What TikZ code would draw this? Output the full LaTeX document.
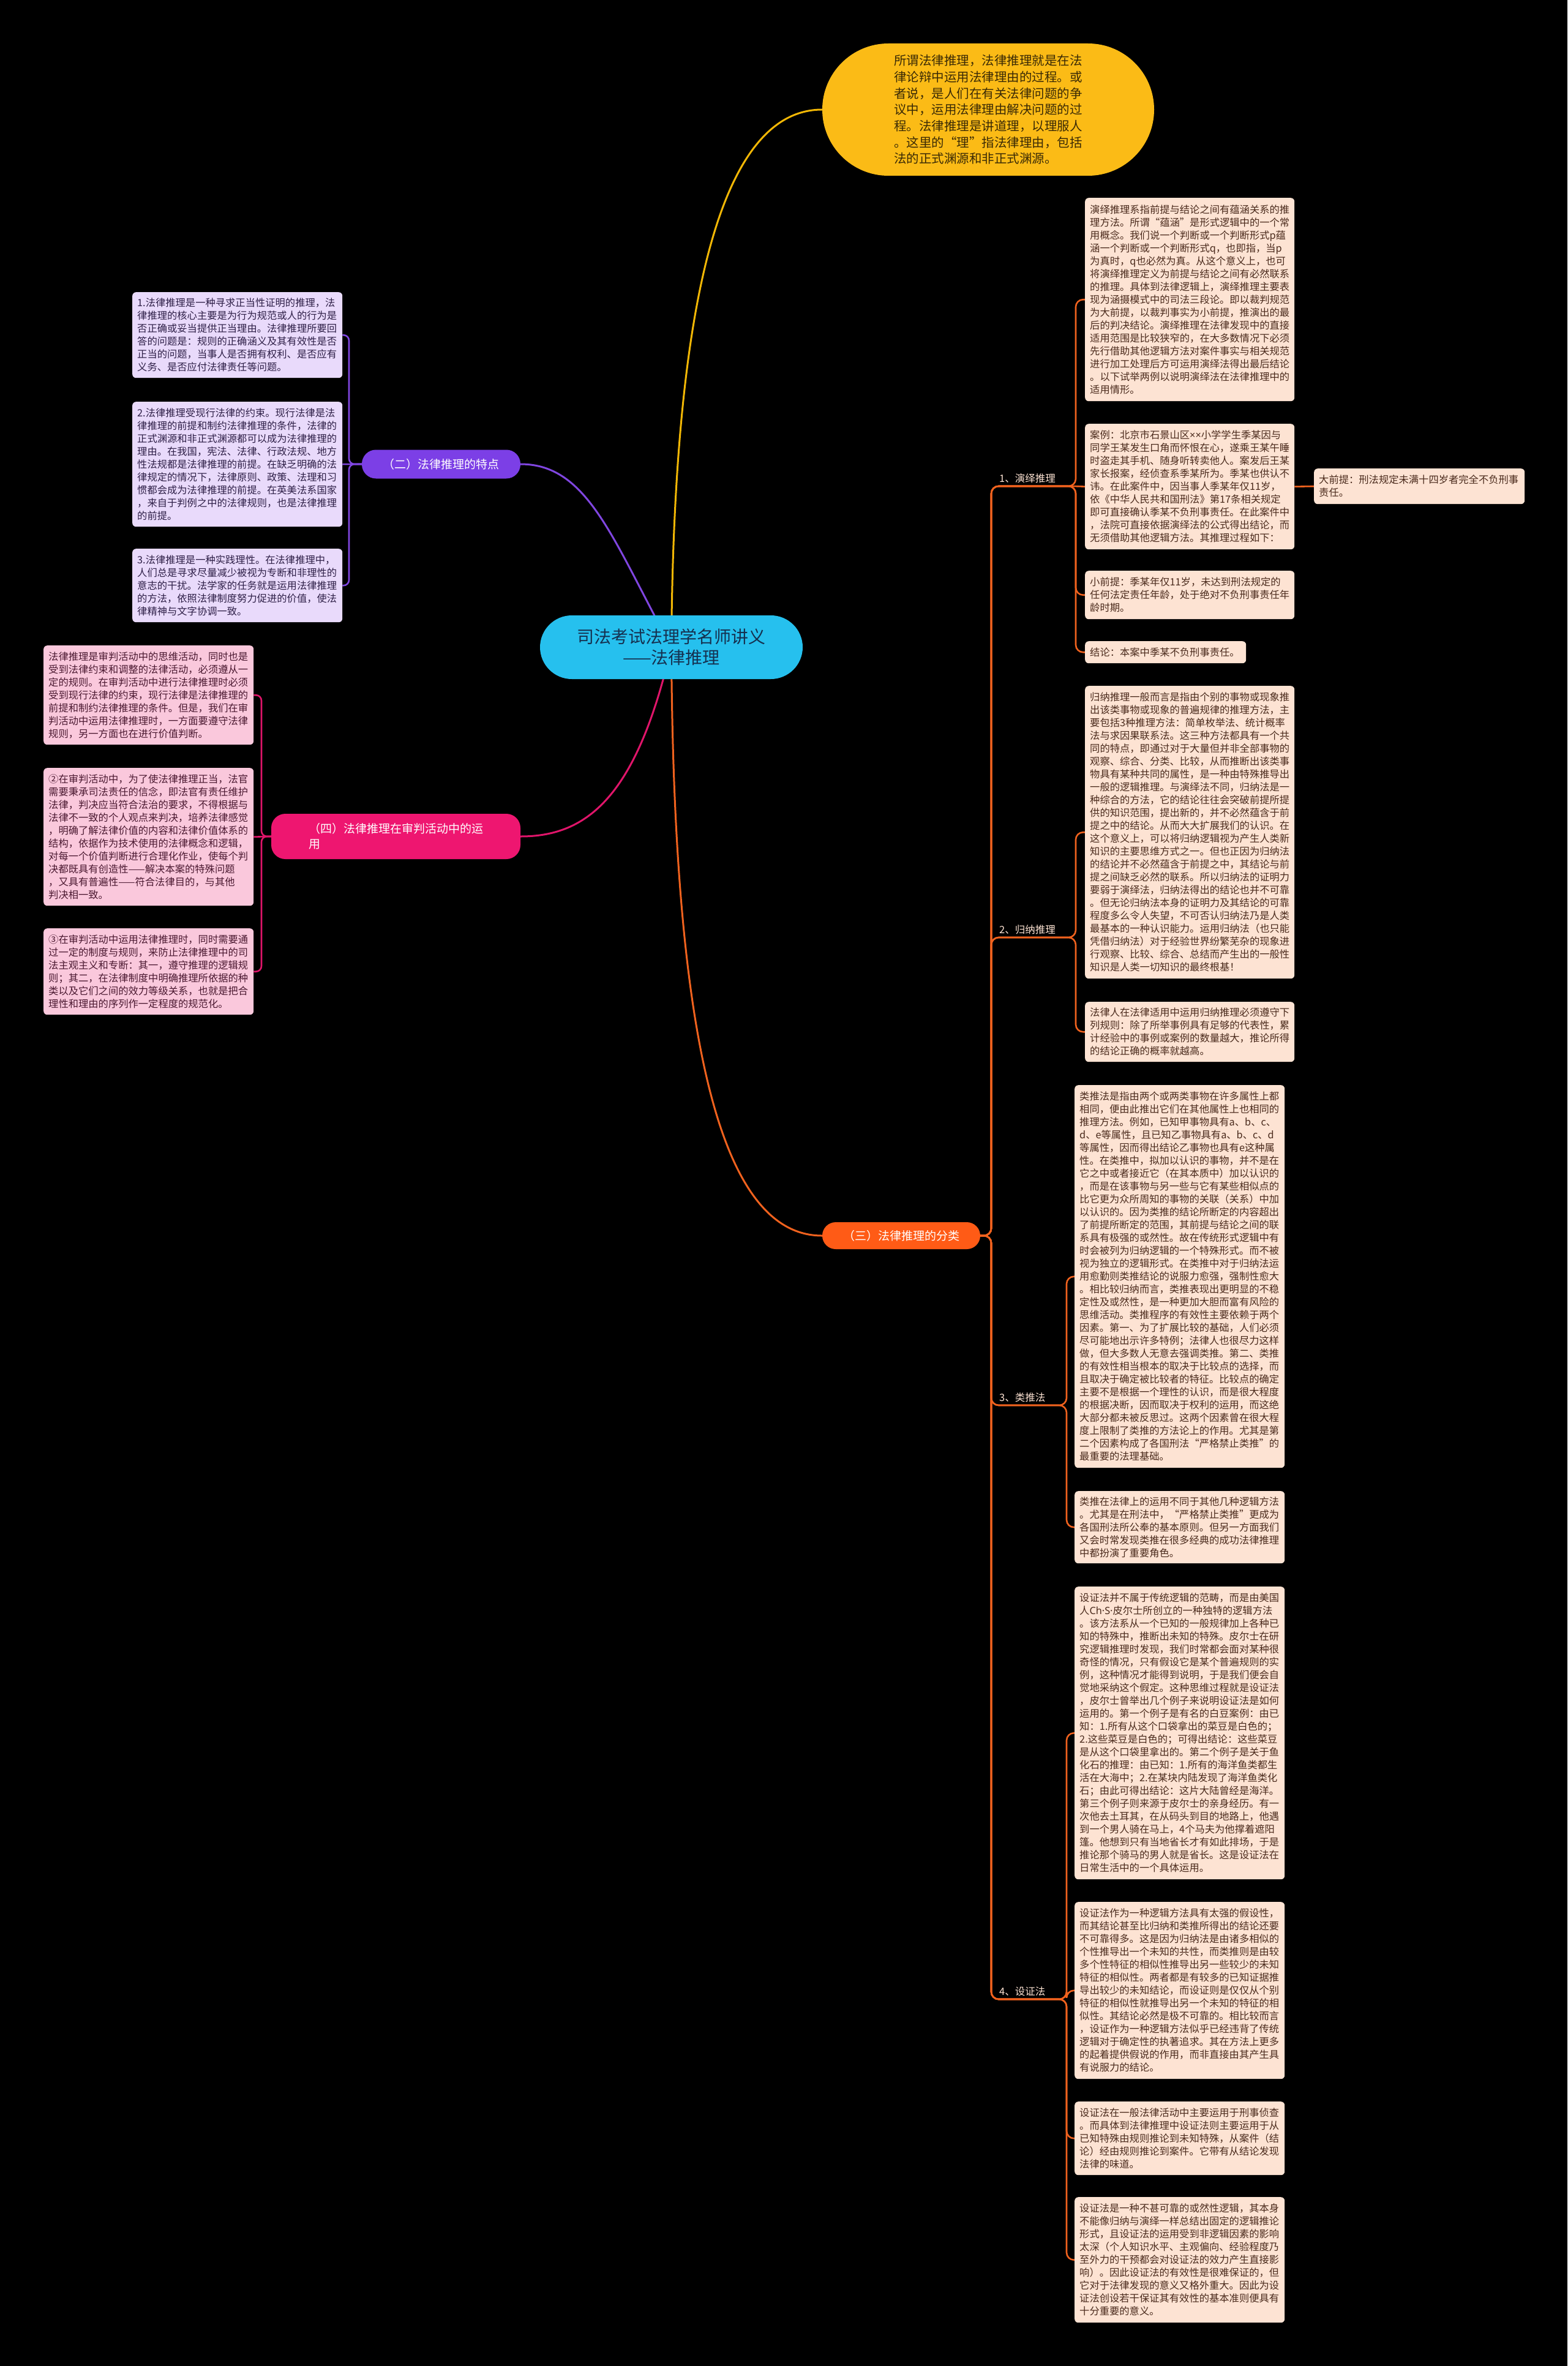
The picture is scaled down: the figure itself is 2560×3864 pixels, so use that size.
\documentclass[tikz,border=0pt]{standalone}
\usepackage{fontspec}
\setmainfont{Noto Sans CJK SC}
\newfontfamily\latinfont{Noto Sans}
\usetikzlibrary{backgrounds}
\definecolor{yelfill}{HTML}{FBBB16}
\definecolor{yelline}{HTML}{F2B705}
\definecolor{yeltext}{HTML}{3A2A05}
\definecolor{rootfill}{HTML}{26C0EE}
\definecolor{roottext}{HTML}{15304F}
\definecolor{purfill}{HTML}{7C3FE6}
\definecolor{purline}{HTML}{8046E0}
\definecolor{purleaf}{HTML}{E9DAFB}
\definecolor{purtext}{HTML}{2E1F47}
\definecolor{pinkfill}{HTML}{EE1670}
\definecolor{pinkline}{HTML}{E0156A}
\definecolor{pinkleaf}{HTML}{FAC8DC}
\definecolor{pinktext}{HTML}{4A1830}
\definecolor{orfill}{HTML}{FF5B16}
\definecolor{orline}{HTML}{F0621E}
\definecolor{peach}{HTML}{FDE3D3}
\definecolor{peachtext}{HTML}{4A2A1C}
\tikzset{
  leafbase/.style={anchor=north west, rounded corners=6pt, inner xsep=8pt, inner ysep=0pt, align=left, font=\fontsize{16.3}{21}\selectfont},
  purleafbox/.style={leafbase, fill=purleaf, text=purtext},
  pinkleafbox/.style={leafbase, fill=pinkleaf, text=pinktext},
  orleafbox/.style={leafbase, fill=peach, text=peachtext},
  pillbox/.style={rounded corners=23pt, text=white, font=\fontsize{19}{25}\selectfont, inner xsep=0pt, inner ysep=0pt},
  sublabel/.style={anchor=south west, text=peach, font=\fontsize{16.5}{20}\selectfont, inner sep=2pt},
  mainline/.style={line width=3pt},
  brline/.style={line width=2.6pt, rounded corners=12pt},
  lbrline/.style={line width=2.6pt, rounded corners=9pt},
}
\begin{document}
\begin{tikzpicture}[x=1pt,y=-1pt]
\useasboundingbox (0,0) rectangle (2560,3864);

% ---------- nodes ----------
\node[fill=rootfill, rounded corners=52pt, minimum width=429pt, minimum height=104pt, text=roottext, align=center, font=\fontsize{28}{34}\selectfont, inner sep=0pt] (root) at (1096.5,1057) {司法考试法理学名师讲义\\——法律推理};

\node[fill=yelfill, rounded corners=108pt, minimum width=542pt, minimum height=216pt, text=yeltext, align=left, font=\fontsize{20.5}{26.7}\selectfont, inner sep=0pt] (yel) at (1614,179) {所谓法律推理，法律推理就是在法\\律论辩中运用法律理由的过程。或\\者说，是人们在有关法律问题的争\\议中，运用法律理由解决问题的过\\程。法律推理是讲道理，以理服人\\。这里的“理”指法律理由，包括\\法的正式渊源和非正式渊源。};

\node[pillbox, fill=purfill, minimum width=259pt, minimum height=47pt] (er) at (720.5,758) {（二）法律推理的特点};
\node[pillbox, fill=pinkfill, minimum width=407pt, minimum height=74pt, align=left] (si) at (646.5,1366) {（四）法律推理在审判活动中的运\\用};
\node[pillbox, fill=orfill, minimum width=258pt, minimum height=44pt, rounded corners=22pt] (san) at (1472,2018) {（三）法律推理的分类};

% purple leaves
\node[purleafbox, text width=327pt, minimum height=140pt] (p1) at (216,477) {1.法律推理是一种寻求正当性证明的推理，法\\律推理的核心主要是为行为规范或人的行为是\\否正确或妥当提供正当理由。法律推理所要回\\答的问题是：规则的正确涵义及其有效性是否\\正当的问题，当事人是否拥有权利、是否应有\\义务、是否应付法律责任等问题。};
\node[purleafbox, text width=327pt, minimum height=204pt] (p2) at (216,656) {2.法律推理受现行法律的约束。现行法律是法\\律推理的前提和制约法律推理的条件，法律的\\正式渊源和非正式渊源都可以成为法律推理的\\理由。在我国，宪法、法律、行政法规、地方\\性法规都是法律推理的前提。在缺乏明确的法\\律规定的情况下，法律原则、政策、法理和习\\惯都会成为法律推理的前提。在英美法系国家\\，来自于判例之中的法律规则，也是法律推理\\的前提。};
\node[purleafbox, text width=327pt, minimum height=120pt] (p3) at (216,896) {3.法律推理是一种实践理性。在法律推理中，\\人们总是寻求尽量减少被视为专断和非理性的\\意志的干扰。法学家的任务就是运用法律推理\\的方法，依照法律制度努力促进的价值，使法\\律精神与文字协调一致。};

% pink leaves
\node[pinkleafbox, text width=327pt, minimum height=162pt] (k1) at (71,1054) {法律推理是审判活动中的思维活动，同时也是\\受到法律约束和调整的法律活动，必须遵从一\\定的规则。在审判活动中进行法律推理时必须\\受到现行法律的约束，现行法律是法律推理的\\前提和制约法律推理的条件。但是，我们在审\\判活动中运用法律推理时，一方面要遵守法律\\规则，另一方面也在进行价值判断。};
\node[pinkleafbox, text width=327pt, minimum height=225pt] (k2) at (71,1254) {②在审判活动中，为了使法律推理正当，法官\\需要秉承司法责任的信念，即法官有责任维护\\法律，判决应当符合法治的要求，不得根据与\\法律不一致的个人观点来判决，培养法律感觉\\，明确了解法律价值的内容和法律价值体系的\\结构，依据作为技术使用的法律概念和逻辑，\\对每一个价值判断进行合理化作业，使每个判\\决都既具有创造性——解决本案的特殊问题\\，又具有普遍性——符合法律目的，与其他\\判决相一致。};
\node[pinkleafbox, text width=327pt, minimum height=141pt] (k3) at (71,1516) {③在审判活动中运用法律推理时，同时需要通\\过一定的制度与规则，来防止法律推理中的司\\法主观主义和专断：其一，遵守推理的逻辑规\\则；其二，在法律制度中明确推理所依据的种\\类以及它们之间的效力等级关系，也就是把合\\理性和理由的序列作一定程度的规范化。};

% right leaves: deduction
\node[orleafbox, text width=326pt, minimum height=332pt] (d1) at (1772,323) {演绎推理系指前提与结论之间有蕴涵关系的推\\理方法。所谓“蕴涵”是形式逻辑中的一个常\\用概念。我们说一个判断或一个判断形式p蕴\\涵一个判断或一个判断形式q，也即指，当p\\为真时，q也必然为真。从这个意义上，也可\\将演绎推理定义为前提与结论之间有必然联系\\的推理。具体到法律逻辑上，演绎推理主要表\\现为涵摄模式中的司法三段论。即以裁判规范\\为大前提，以裁判事实为小前提，推演出的最\\后的判决结论。演绎推理在法律发现中的直接\\适用范围是比较狭窄的，在大多数情况下必须\\先行借助其他逻辑方法对案件事实与相关规范\\进行加工处理后方可运用演绎法得出最后结论\\。以下试举两例以说明演绎法在法律推理中的\\适用情形。};
\node[orleafbox, text width=326pt, minimum height=205pt] (d2) at (1772,692) {案例：北京市石景山区{\latinfont ××}小学学生季某因与\\同学王某发生口角而怀恨在心，遂乘王某午睡\\时盗走其手机、随身听转卖他人。案发后王某\\家长报案，经侦查系季某所为。季某也供认不\\讳。在此案件中，因当事人季某年仅11岁，\\依《中华人民共和国刑法》第17条相关规定\\即可直接确认季某不负刑事责任。在此案件中\\，法院可直接依据演绎法的公式得出结论，而\\无须借助其他逻辑方法。其推理过程如下：};
\node[orleafbox, text width=328pt, minimum height=58pt] (d3) at (2146,765) {大前提：刑法规定未满十四岁者完全不负刑事\\责任。};
\node[orleafbox, text width=326pt, minimum height=79pt] (d4) at (1772,932) {小前提：季某年仅11岁，未达到刑法规定的\\任何法定责任年龄，处于绝对不负刑事责任年\\龄时期。};
\node[orleafbox, text width=247pt, minimum height=36pt] (d5) at (1772,1047) {结论：本案中季某不负刑事责任。};

% induction
\node[orleafbox, text width=326pt, minimum height=478pt] (g1) at (1772,1120) {归纳推理一般而言是指由个别的事物或现象推\\出该类事物或现象的普遍规律的推理方法，主\\要包括3种推理方法：简单枚举法、统计概率\\法与求因果联系法。这三种方法都具有一个共\\同的特点，即通过对于大量但并非全部事物的\\观察、综合、分类、比较，从而推断出该类事\\物具有某种共同的属性，是一种由特殊推导出\\一般的逻辑推理。与演绎法不同，归纳法是一\\种综合的方法，它的结论往往会突破前提所提\\供的知识范围，提出新的，并不必然蕴含于前\\提之中的结论。从而大大扩展我们的认识。在\\这个意义上，可以将归纳逻辑视为产生人类新\\知识的主要思维方式之一。但也正因为归纳法\\的结论并不必然蕴含于前提之中，其结论与前\\提之间缺乏必然的联系。所以归纳法的证明力\\要弱于演绎法，归纳法得出的结论也并不可靠\\。但无论归纳法本身的证明力及其结论的可靠\\程度多么令人失望，不可否认归纳法乃是人类\\最基本的一种认识能力。运用归纳法（也只能\\凭借归纳法）对于经验世界纷繁芜杂的现象进\\行观察、比较、综合、总结而产生出的一般性\\知识是人类一切知识的最终根基！};
\node[orleafbox, text width=326pt, minimum height=98pt] (g2) at (1772,1636) {法律人在法律适用中运用归纳推理必须遵守下\\列规则：除了所举事例具有足够的代表性，累\\计经验中的事例或案例的数量越大，推论所得\\的结论正确的概率就越高。};

% analogy
\node[orleafbox, text width=327pt, minimum height=625pt] (l1) at (1755,1772) {类推法是指由两个或两类事物在许多属性上都\\相同，便由此推出它们在其他属性上也相同的\\推理方法。例如，已知甲事物具有a、b、c、\\d、e等属性，且已知乙事物具有a、b、c、d\\等属性，因而得出结论乙事物也具有e这种属\\性。在类推中，拟加以认识的事物，并不是在\\它之中或者接近它（在其本质中）加以认识的\\，而是在该事物与另一些与它有某些相似点的\\比它更为众所周知的事物的关联（关系）中加\\以认识的。因为类推的结论所断定的内容超出\\了前提所断定的范围，其前提与结论之间的联\\系具有极强的或然性。故在传统形式逻辑中有\\时会被列为归纳逻辑的一个特殊形式。而不被\\视为独立的逻辑形式。在类推中对于归纳法运\\用愈勤则类推结论的说服力愈强，强制性愈大\\。相比较归纳而言，类推表现出更明显的不稳\\定性及或然性，是一种更加大胆而富有风险的\\思维活动。类推程序的有效性主要依赖于两个\\因素。第一、为了扩展比较的基础，人们必须\\尽可能地出示许多特例；法律人也很尽力这样\\做，但大多数人无意去强调类推。第二、类推\\的有效性相当根本的取决于比较点的选择，而\\且取决于确定被比较者的特征。比较点的确定\\主要不是根据一个理性的认识，而是很大程度\\的根据决断，因而取决于权利的运用，而这绝\\大部分都未被反思过。这两个因素曾在很大程\\度上限制了类推的方法论上的作用。尤其是第\\二个因素构成了各国刑法“严格禁止类推”的\\最重要的法理基础。};
\node[orleafbox, text width=327pt, minimum height=118pt] (l2) at (1755,2435) {类推在法律上的运用不同于其他几种逻辑方法\\。尤其是在刑法中，“严格禁止类推”更成为\\各国刑法所公奉的基本原则。但另一方面我们\\又会时常发现类推在很多经典的成功法律推理\\中都扮演了重要角色。};

% abduction
\node[orleafbox, text width=327pt, minimum height=478pt] (s1) at (1755,2591) {设证法并不属于传统逻辑的范畴，而是由美国\\人{\latinfont Ch·S·}皮尔士所创立的一种独特的逻辑方法\\。该方法系从一个已知的一般规律加上各种已\\知的特殊中，推断出未知的特殊。皮尔士在研\\究逻辑推理时发现，我们时常都会面对某种很\\奇怪的情况，只有假设它是某个普遍规则的实\\例，这种情况才能得到说明，于是我们便会自\\觉地采纳这个假定。这种思维过程就是设证法\\，皮尔士曾举出几个例子来说明设证法是如何\\运用的。第一个例子是有名的白豆案例：由已\\知：1.所有从这个口袋拿出的菜豆是白色的；\\2.这些菜豆是白色的；可得出结论：这些菜豆\\是从这个口袋里拿出的。第二个例子是关于鱼\\化石的推理：由已知：1.所有的海洋鱼类都生\\活在大海中；2.在某块内陆发现了海洋鱼类化\\石；由此可得出结论：这片大陆曾经是海洋。\\第三个例子则来源于皮尔士的亲身经历。有一\\次他去土耳其，在从码头到目的地路上，他遇\\到一个男人骑在马上，4个马夫为他撑着遮阳\\篷。他想到只有当地省长才有如此排场，于是\\推论那个骑马的男人就是省长。这是设证法在\\日常生活中的一个具体运用。};
\node[orleafbox, text width=327pt, minimum height=289pt] (s2) at (1755,3106) {设证法作为一种逻辑方法具有太强的假设性，\\而其结论甚至比归纳和类推所得出的结论还要\\不可靠得多。这是因为归纳法是由诸多相似的\\个性推导出一个未知的共性，而类推则是由较\\多个性特征的相似性推导出另一些较少的未知\\特征的相似性。两者都是有较多的已知证据推\\导出较少的未知结论，而设证则是仅仅从个别\\特征的相似性就推导出另一个未知的特征的相\\似性。其结论必然是极不可靠的。相比较而言\\，设证作为一种逻辑方法似乎已经违背了传统\\逻辑对于确定性的执著追求。其在方法上更多\\的起着提供假说的作用，而非直接由其产生具\\有说服力的结论。};
\node[orleafbox, text width=327pt, minimum height=120pt] (s3) at (1755,3432) {设证法在一般法律活动中主要运用于刑事侦查\\。而具体到法律推理中设证法则主要运用于从\\已知特殊由规则推论到未知特殊，从案件（结\\论）经由规则推论到案件。它带有从结论发现\\法律的味道。};
\node[orleafbox, text width=327pt, minimum height=205pt] (s4) at (1755,3588) {设证法是一种不甚可靠的或然性逻辑，其本身\\不能像归纳与演绎一样总结出固定的逻辑推论\\形式，且设证法的运用受到非逻辑因素的影响\\太深（个人知识水平、主观偏向、经验程度乃\\至外力的干预都会对设证法的效力产生直接影\\响）。因此设证法的有效性是很难保证的，但\\它对于法律发现的意义又格外重大。因此为设\\证法创设若干保证其有效性的基本准则便具有\\十分重要的意义。};

% sub labels
\node[sublabel] (t1) at (1630,791) {1、演绎推理};
\node[sublabel] (t2) at (1630,1528) {2、归纳推理};
\node[sublabel] (t3) at (1630,2292) {3、类推法};
\node[sublabel] (t4) at (1630,3262) {4、设证法};

% junction coordinates
\coordinate (bp) at (570,758);
\coordinate (bk) at (427,1366);
\coordinate (bo) at (1619,2018);
\coordinate (j1) at (1757,794);
\coordinate (j2) at (1757,1531);
\coordinate (j3) at (1742,2295);
\coordinate (j4) at (1742,3265);

% ---------- connectors (behind nodes) ----------
\begin{pgfonlayer}{background}
\fill[black] (0,0) rectangle (2560,3864);
\draw[mainline, yelline] (root.center) .. controls (1100,520) and (1170,179) .. (yel.west);
\draw[mainline, purline] (root.center) .. controls (1000,880) and (960,758) .. (er.east);
\draw[mainline, pinkline] (root.center) .. controls (1040,1300) and (960,1366) .. (si.east);
\draw[mainline, orline] (root.center) .. controls (1100,1750) and (1190,2018) .. (san.west);

\draw[lbrline, purline] (er.west) -- (bp) |- (p1.east);
\draw[lbrline, purline] (er.west) -- (p2.east);
\draw[lbrline, purline] (er.west) -- (bp) |- (p3.east);

\draw[lbrline, pinkline] (si.west) -- (bk) |- (k1.east);
\draw[lbrline, pinkline] (si.west) -- (k2.east);
\draw[lbrline, pinkline] (si.west) -- (bk) |- (k3.east);

\draw[brline, orline] (san.east) -- (bo) |- (j1) |- (d1.west);
\draw[brline, orline] (san.east) -- (bo) |- (j1) -- (d2.west);
\draw[brline, orline] (san.east) -- (bo) |- (j1) |- (d4.west);
\draw[brline, orline] (san.east) -- (bo) |- (j1) |- (d5.west);
\draw[line width=2.6pt, orline] (d2.east) -- (d3.west);

\draw[brline, orline] (san.east) -- (bo) |- (j2) |- (g1.west);
\draw[brline, orline] (san.east) -- (bo) |- (j2) |- (g2.west);

\draw[brline, orline] (san.east) -- (bo) |- (j3) |- (l1.west);
\draw[brline, orline] (san.east) -- (bo) |- (j3) |- (l2.west);

\draw[brline, orline] (san.east) -- (bo) |- (j4) |- (s1.west);
\draw[brline, orline] (san.east) -- (bo) |- (j4) |- (s2.west);
\draw[brline, orline] (san.east) -- (bo) |- (j4) |- (s3.west);
\draw[brline, orline] (san.east) -- (bo) |- (j4) |- (s4.west);
\end{pgfonlayer}
\end{tikzpicture}
\end{document}
